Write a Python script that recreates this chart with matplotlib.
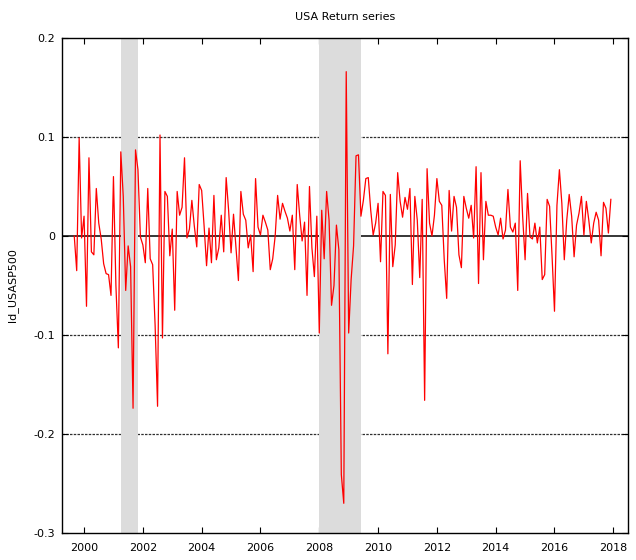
import numpy as np
import pandas as pd
import matplotlib
matplotlib.use("Agg")
import matplotlib.pyplot as plt

# monthly log-differences of the index, Sep 1999 .. Dec 2017
start_month = "1999-09"
ld_usasp500 = [
    0.000, -0.035, 0.099, -0.002, 0.020, -0.071, 0.079, -0.016, -0.019, 0.048,
    0.013, -0.003, -0.028, -0.038, -0.039, -0.060, 0.060, -0.050, -0.113, 0.085,
    0.040, -0.055, -0.010, -0.031, -0.174, 0.087, 0.067, -0.001, -0.009, -0.027,
    0.048, -0.023, -0.029, -0.090, -0.172, 0.102, -0.103, 0.045, 0.040, -0.020,
    0.007, -0.075, 0.045, 0.021, 0.029, 0.079, -0.002, 0.007, 0.036, 0.010,
    -0.011, 0.052, 0.046, 0.010, -0.030, 0.008, -0.027, 0.041, -0.024, -0.012,
    0.021, -0.016, 0.059, 0.026, -0.017, 0.022, -0.011, -0.045, 0.045, 0.022,
    0.016, -0.012, 0.001, -0.036, 0.058, 0.009, 0.001, 0.021, 0.014, 0.006,
    -0.034, -0.023, 0.000, 0.041, 0.017, 0.033, 0.025, 0.018, 0.005, 0.021,
    -0.034, 0.052, 0.021, -0.005, 0.014, -0.060, 0.050, -0.012, -0.041, 0.020,
    -0.098, 0.026, -0.023, 0.045, 0.016, -0.070, -0.050, 0.011, -0.014, -0.241,
    -0.270, 0.166, -0.098, -0.044, -0.010, 0.081, 0.082, 0.020, 0.036, 0.058,
    0.059, 0.026, 0.001, 0.013, 0.033, -0.026, 0.045, 0.041, -0.119, 0.042,
    -0.031, -0.009, 0.064, 0.035, 0.019, 0.039, 0.027, 0.048, -0.049, 0.040,
    0.016, -0.042, 0.037, -0.166, 0.068, 0.013, 0.000, 0.021, 0.058, 0.035,
    0.031, -0.024, -0.063, 0.046, 0.005, 0.040, 0.029, -0.019, -0.032, 0.040,
    0.028, 0.018, 0.031, -0.002, 0.070, -0.048, 0.064, -0.024, 0.035, 0.021,
    0.021, 0.020, 0.009, 0.001, 0.018, -0.003, 0.006, 0.047, 0.009, 0.004,
    0.013, -0.055, 0.076, 0.020, -0.024, 0.043, -0.001, -0.003, 0.013, -0.007,
    0.009, -0.044, -0.039, 0.037, 0.030, -0.020, -0.076, 0.031, 0.067, 0.033,
    -0.024, 0.016, 0.042, 0.020, -0.021, 0.011, 0.023, 0.040, 0.001, 0.035,
    0.016, -0.007, 0.013, 0.024, 0.016, -0.020, 0.034, 0.028, 0.003, 0.037,
]

# recession bands (decimal years)
recessions = [(2001.25, 2001.833), (2008.0, 2009.417)]

x_ticks = list(range(2000, 2019, 2))
y_ticks = [-0.3, -0.2, -0.1, 0.0, 0.1, 0.2]
y_tick_labels = ["-0.3", "-0.2", "-0.1", "0", "0.1", "0.2"]

dates = pd.date_range(start_month, periods=len(ld_usasp500), freq="MS")
t = dates.year + (dates.month - 1) / 12.0

fig = plt.figure(figsize=(6.36, 5.6), dpi=100)
ax = fig.add_axes([62 / 636, 27 / 560, 566 / 636, 495 / 560])

for a, b in recessions:
    ax.axvspan(a, b, color="#dcdcdc", lw=0, zorder=2)

for yv in [0.1, -0.1, -0.2]:
    ax.axhline(yv, color="#303030", lw=0.9, ls=(0, (2, 1)), zorder=1)
ax.axhline(0.0, color="black", lw=1.1, zorder=1)

ax.plot(t, ld_usasp500, color="#ff0000", lw=0.9, zorder=3)

ax.set_xlim(1999.25, 2018.5)
ax.set_ylim(-0.3, 0.2)
ax.set_xticks(x_ticks)
ax.set_yticks(y_ticks)
ax.set_yticklabels(y_tick_labels)
ax.tick_params(direction="in", length=4, width=0.8, top=True, right=True,
               labelsize=8)
ax.tick_params(axis="x", pad=7)
ax.tick_params(axis="y", pad=5)
for s in ax.spines.values():
    s.set_linewidth(1.0)

ax.set_ylabel("ld_USASP500", fontsize=8, labelpad=11)
ax.set_title("USA Return series", fontsize=8, pad=13)

fig.savefig("out.png", dpi=100)
